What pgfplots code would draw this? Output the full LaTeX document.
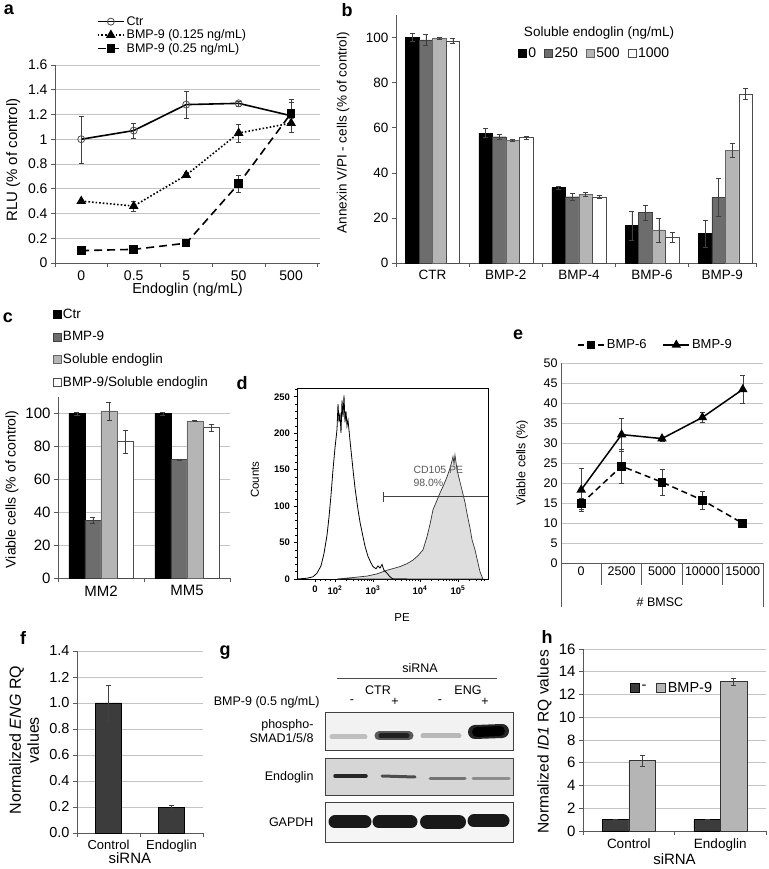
\documentclass[border=0pt]{standalone}
\usepackage{fontspec}
\setmainfont{Liberation Sans}
\usepackage{pgfplots}
\pgfplotsset{compat=1.18}
\definecolor{dg}{HTML}{6D6D6D}
\definecolor{lg}{HTML}{B5B5B5}
\definecolor{fdark}{HTML}{3C3C3C}
\definecolor{gridc}{HTML}{C4C4C4}
\newcommand{\fs}[2]{\fontsize{#1}{#2}\selectfont}
\pgfplotsset{
  exc/.style={anchor=south west, scale only axis, axis x line*=bottom, axis y line*=left,
    axis line style={-,draw=black!65, line width=0.7pt}, tick align=outside, major tick length=4pt,
    tick style={draw=black!65, line width=0.6pt}, grid style={draw=gridc, line width=0.6pt},
    /pgf/number format/assume math mode=true, clip=false, legend cell align=left},
  sq/.style={legend image code/.code={\draw[##1] (0pt,-4pt) rectangle (8pt,4pt);}},
  ln/.style={legend image code/.code={\draw[mark repeat=2,mark phase=2,##1] plot coordinates {(0pt,0pt) (13pt,0pt) (26pt,0pt)};}},
  eb/.style={error bars/y dir=both, error bars/y explicit,
    error bars/error bar style={black!75, line width=0.6pt, solid},
    error bars/error mark options={rotate=90, mark size=2.5pt, black!75, solid}},
}
\begin{document}
\begin{tikzpicture}
\path[use as bounding box] (0pt,0pt) rectangle (768pt,869pt);

% ---------------- a ----------------
\begin{axis}[exc, at={(55pt,606pt)}, width=265pt, height=198pt,
 xmin=-0.5, xmax=4.55, ymin=0, ymax=1.6,
 xtick={-0.5,0.5,1.5,2.5,3.5,4.5}, xticklabels={0,0.5,5,50,500}, x tick label as interval,
 ytick={0,0.2,0.4,0.6,0.8,1,1.2,1.4,1.6}, yticklabels={0,0.2,0.4,0.6,0.8,1,1.2,1.4,1.6},
 ymajorgrids, tick label style={font=\fs{14}{16}},
 xlabel={Endoglin (ng/mL)}, xlabel style={font=\fs{14.5}{16}, at={(axis description cs:0.5,-0.136)}, anchor=center},
 ylabel={RLU (\% of control)}, ylabel style={font=\fs{15}{17}, at={(axis description cs:-0.158,0.52)}, anchor=center},
 ln, legend style={at={(axis description cs:0.158,1.045)}, anchor=south west, draw=none, fill=none, inner sep=0pt, font=\fs{12.5}{14}, row sep=-1pt},
]
\addplot[black, line width=1.6pt, mark=o, mark size=3.5pt, mark options={solid, draw=black!70, fill=white, line width=0.8pt}, eb]
 coordinates {(0,1.00)+-(0,0.19) (1,1.07)+-(0,0.06) (2,1.28)+-(0,0.11) (3,1.29)+-(0,0.02) (4,1.19)+-(0,0.13)};
\addlegendentry{Ctr}
\addplot[black, line width=1.6pt, dash pattern=on 1.6pt off 2pt, mark=triangle*, mark size=4pt, mark options={solid}, eb]
 coordinates {(0,0.50)+-(0,0.01) (1,0.46)+-(0,0.04) (2,0.71)+-(0,0.02) (3,1.05)+-(0,0.07) (4,1.13)+-(0,0.07)};
\addlegendentry{BMP-9 (0.125 ng/mL)}
\addplot[black, line width=1.6pt, dash pattern=on 8pt off 5pt, mark=square*, mark size=3.5pt, mark options={solid}, eb]
 coordinates {(0,0.10)+-(0,0.01) (1,0.11)+-(0,0.01) (2,0.16)+-(0,0.01) (3,0.64)+-(0,0.07) (4,1.21)+-(0,0.09)};
\addlegendentry{BMP-9 (0.25 ng/mL)}
\end{axis}

% ---------------- b ----------------
\begin{axis}[exc, at={(396pt,606pt)}, width=360pt, height=248pt,
 ybar=0pt, bar width=13.5pt,
 xmin=-0.5, xmax=4.42, ymin=0, ymax=110,
 xtick={-0.5,0.5,1.5,2.5,3.5,4.42}, xticklabels={CTR,BMP-2,BMP-4,BMP-6,BMP-9}, x tick label as interval,
 ytick={0,20,40,60,80,100}, yticklabels={0,20,40,60,80,100},
 tick label style={font=\fs{13.5}{15}},
 ylabel={Annexin V/PI - cells (\% of control)}, ylabel style={font=\fs{13.5}{16}, at={(axis description cs:-0.147,0.526)}, anchor=center},
 sq, legend columns=4, legend style={at={(axis description cs:0.33,0.847)}, anchor=west, draw=none, fill=none, font=\fs{14}{15}, /tikz/every even column/.append style={column sep=6pt}},
]
\addplot[fill=black, draw=black, eb] coordinates {(0,100)+-(0,1.8) (1,57.6)+-(0,2) (2,33.4)+-(0,0.5) (3,16.6)+-(0,6.3) (4,13.2)+-(0,6)};
\addlegendentry{0}
\addplot[fill=dg, draw=black!75, eb] coordinates {(0,99)+-(0,2.3) (1,56)+-(0,1.3) (2,29.4)+-(0,1.4) (3,22.5)+-(0,3.3) (4,29.1)+-(0,8.5)};
\addlegendentry{250}
\addplot[fill=lg, draw=black!60, eb] coordinates {(0,99.7)+-(0,0.3) (1,54.4)+-(0,0.5) (2,30.6)+-(0,0.8) (3,14.7)+-(0,5.3) (4,50)+-(0,3.2)};
\addlegendentry{500}
\addplot[fill=white, draw=black!70, eb] coordinates {(0,98.5)+-(0,1) (1,55.6)+-(0,0.7) (2,29.4)+-(0,0.5) (3,11.5)+-(0,2.1) (4,75)+-(0,2.5)};
\addlegendentry{1000}
\node[font=\fs{13.5}{15}] at (axis description cs:0.564,0.927) {Soluble endoglin (ng/mL)};
\end{axis}

% ---------------- c ----------------
\begin{axis}[exc, at={(58pt,291pt)}, width=172pt, height=181pt,
 ybar=0pt, bar width=16pt,
 xmin=-0.5, xmax=1.5, ymin=0, ymax=110,
 xtick={-0.5,0.5,1.5}, xticklabels={MM2,MM5}, x tick label as interval,
 ytick={0,20,40,60,80,100}, yticklabels={0,20,40,60,80,100}, ymajorgrids,
 tick label style={font=\fs{15}{17}},
 ylabel={Viable cells (\% of control)}, ylabel style={font=\fs{14}{16}, at={(axis description cs:-0.267,0.49)}, anchor=center},
 sq, legend style={at={(axis description cs:-0.05,1.51)}, anchor=north west, draw=none, fill=none, font=\fs{13.5}{15}, row sep=7.5pt},
]
\addplot[fill=black, draw=black, eb] coordinates {(0,100)+-(0,1) (1,100)+-(0,1)};
\addlegendentry{Ctr}
\addplot[fill=dg, draw=black!75, eb] coordinates {(0,35)+-(0,2) (1,72)+-(0,0.3)};
\addlegendentry{BMP-9}
\addplot[fill=lg, draw=black!60, eb] coordinates {(0,101.5)+-(0,5.5) (1,95.5)+-(0,0.3)};
\addlegendentry{Soluble endoglin}
\addplot[fill=white, draw=black!70, eb] coordinates {(0,83)+-(0,7) (1,91.5)+-(0,2.2)};
\addlegendentry{BMP-9/Soluble endoglin}
\end{axis}

% ---------------- d ----------------
\begin{axis}[anchor=south west, scale only axis, at={(297pt,290pt)}, width=191pt, height=191pt,
 xmin=0, xmax=191, ymin=0, ymax=262, clip=false,
 axis line style={black, line width=0.9pt}, tick align=outside, xtick pos=left, ytick pos=left,
 major tick length=3.5pt, minor tick length=2pt, tick style={black, line width=0.6pt},
 xtick={18,38,76,123,161}, xticklabels={0,10\textsuperscript{2},10\textsuperscript{3},10\textsuperscript{4},10\textsuperscript{5}},
 minor xtick={23,28,33,49.4,56.1,60.9,64.6,67.6,70.1,72.3,74.3,90.1,98.4,104.3,108.9,112.6,115.7,118.4,120.8,134.4,141.1,145.9,149.6,152.6,155.1,157.3,159.3,172.4,179.1,183.9,187.6},
 ytick={0,50,100,150,200,250}, yticklabels={0,50,100,150,200,250},
 minor ytick={10,20,30,40,60,70,80,90,110,120,130,140,160,170,180,190,210,220,230,240,260},
 tick label style={font=\fs{9.5}{11}\bfseries},
 xlabel={PE}, xlabel style={font=\fs{11.5}{13}, at={(axis description cs:0.55,-0.204)}, anchor=center},
 ylabel={Counts}, ylabel style={font=\fs{11.5}{13}, at={(axis description cs:-0.22,0.52)}, anchor=center},
]
\addplot[fill=black!13, draw=black!80, line width=0.7pt] coordinates {
 (40,0) (56,2) (70,4) (80,7) (90,12) (103,17) (110,21) (116,26) (121,32) (126,40) (130,58) (133,75) (136,95)
 (140,108) (143,118) (147,130) (150,140) (153,152) (155,162) (156,168) (157,158) (158,170) (159,160) (160,150)
 (163,133) (165,122) (168,105) (170,90) (173,70) (175,54) (178,40) (181,22) (183,10) (185,3) (186,0)} \closedcycle;
\addplot[black, line width=0.8pt] coordinates {
 (0,0) (10,1) (16,3) (20,8) (24,18) (27,35) (30,60) (32,85) (34,115) (36,150) (38,180) (40,205) (41,240) (42,215)
 (43,228) (44,200) (45,245) (46,222) (47,252) (48,215) (49,230) (50,210) (51,218) (53,190) (56,150) (58,125)
 (61,95) (63,78) (66,58) (68,45) (71,31) (74,22) (76,17) (79,14) (81,18) (83,15) (85,20) (87,12) (90,8) (93,3) (96,0) (110,0)};
\addplot[black!75, line width=0.6pt, mark=|, mark size=5pt, mark indices={1}] coordinates {(86,113) (191,113)};
\node[anchor=west, font=\fs{10.5}{11}, text=black!65] at (axis cs:113,150) {CD105 PE};
\node[anchor=west, font=\fs{10.5}{11}, text=black!65] at (axis cs:113,132) {98.0\%};
\end{axis}

% ---------------- e ----------------
\begin{axis}[exc, at={(561pt,306pt)}, width=202pt, height=200pt, major tick length=0pt,
 xmin=-0.5, xmax=4.5, ymin=0, ymax=50,
 xtick={-0.5,0.5,1.5,2.5,3.5,4.5}, xticklabels={0,2500,5000,10000,15000}, x tick label as interval,
 ytick={0,5,...,50}, yticklabels={0,5,10,15,20,25,30,35,40,45,50}, ymajorgrids,
 tick label style={font=\fs{12.5}{14}},
 ylabel={Viable cells (\%)}, ylabel style={font=\fs{12.5}{14}, at={(axis description cs:-0.193,0.5)}, anchor=center},
 ln, legend columns=2, legend style={at={(axis description cs:0.065,1.09)}, anchor=west, draw=none, fill=none, font=\fs{13}{14}, /tikz/every even column/.append style={column sep=14pt}},
]
\addplot[black, line width=1.5pt, dash pattern=on 6pt off 4pt, mark=square*, mark size=3.6pt, mark options={solid}, eb]
 coordinates {(0,14.8)+-(0,1.4) (1,24.2)+-(0,4.3) (2,20.2)+-(0,3.3) (3,15.7)+-(0,2.3) (4,9.9)+-(0,0.4)};
\addlegendentry{BMP-6}
\addplot[black, line width=1.5pt, mark=triangle*, mark size=4pt, eb]
 coordinates {(0,18.3)+-(0,5.4) (1,32.1)+-(0,4.1) (2,31.1)+-(0,0.6) (3,36.4)+-(0,1.3) (4,43.4)+-(0,3.5)};
\addlegendentry{BMP-9}
\draw[black!65, line width=0.7pt] (axis cs:0.5,0) -- ++(0pt,-22pt);
\draw[black!65, line width=0.7pt] (axis cs:1.5,0) -- ++(0pt,-22pt);
\draw[black!65, line width=0.7pt] (axis cs:2.5,0) -- ++(0pt,-22pt);
\draw[black!65, line width=0.7pt] (axis cs:3.5,0) -- ++(0pt,-22pt);
\draw[black!65, line width=0.7pt] (axis cs:-0.5,0) -- ++(0pt,-44pt);
\draw[black!65, line width=0.7pt] (axis cs:4.5,0) -- ++(0pt,-44pt);
\node[font=\fs{12.5}{14}] at (axis description cs:0.49,-0.195) {\# BMSC};
\end{axis}

% ---------------- f ----------------
\begin{axis}[exc, at={(77pt,36pt)}, width=126pt, height=182pt,
 ybar, bar width=26pt,
 xmin=-0.5, xmax=1.5, ymin=0, ymax=1.4,
 xtick={-0.5,0.5,1.5}, xticklabels={Control,Endoglin}, x tick label as interval,
 ytick={0,0.2,0.4,0.6,0.8,1.0,1.2,1.4}, yticklabels={0.0,0.2,0.4,0.6,0.8,1.0,1.2,1.4}, ymajorgrids,
 yticklabel style={font=\fs{14.5}{16}}, xticklabel style={font=\fs{13}{14}},
 xlabel={siRNA}, xlabel style={font=\fs{15}{16}, at={(axis description cs:0.42,-0.138)}, anchor=center},
 ylabel={Normalized \textit{ENG} RQ\\values}, ylabel style={font=\fs{16}{18}, align=center, at={(axis description cs:-0.42,0.51)}, anchor=center},
]
\addplot[fill=fdark, draw=black, eb] coordinates {(0,1.0)+-(0,0.14) (1,0.2)+-(0,0.015)};
\end{axis}

% ---------------- g ----------------
\begin{axis}[anchor=south west, scale only axis, at={(325pt,27pt)}, width=188pt, height=130pt,
 xmin=0, xmax=188, ymin=0, ymax=130, hide axis, clip=false]
\addplot[draw=black!75, line width=0.8pt, fill=black!5] coordinates {(0,92) (188,92) (188,130) (0,130) (0,92)};
\addplot[draw=black!75, line width=0.8pt, fill=black!16] coordinates {(0,47) (188,47) (188,84) (0,84) (0,47)};
\addplot[draw=black!75, line width=0.8pt, fill=black!4] coordinates {(0,0) (188,0) (188,40) (0,40) (0,0)};
% phospho-SMAD1/5/8
\addplot[black!25, line width=5pt, line cap=round] coordinates {(7,105) (40,105)};
\addplot[black!65, line width=9pt, line cap=round] coordinates {(54,106) (84,106)};
\addplot[black!88, line width=5pt, line cap=round] coordinates {(56,106) (82,106)};
\addplot[black!28, line width=5pt, line cap=round] coordinates {(98,106) (134,106)};
\addplot[black!85, line width=14pt, line cap=round] coordinates {(150,110) (177,111)};
\addplot[black, line width=10pt, line cap=round] coordinates {(152,110) (175,111)};
% Endoglin
\addplot[black!85, line width=3.5pt, line cap=round] coordinates {(10,66) (41,66)};
\addplot[black!70, line width=3pt, line cap=round] coordinates {(57,66) (90,65)};
\addplot[black!55, line width=3pt, line cap=round] coordinates {(105,63) (140,63)};
\addplot[black!45, line width=3pt, line cap=round] coordinates {(148,63) (184,63)};
% GAPDH
\addplot[black!90, line width=13pt, line cap=round] coordinates {(10,20) (40,20)};
\addplot[black!90, line width=13pt, line cap=round] coordinates {(54,20) (86,20)};
\addplot[black!90, line width=14pt, line cap=round] coordinates {(102,20) (134,20)};
\addplot[black!90, line width=13pt, line cap=round] coordinates {(149,21) (178,21)};
\end{axis}
\begin{scope}[every node/.style={font=\fs{12.5}{14}}]
\node at (420pt,201pt) {siRNA};
\draw[black!70, line width=0.6pt] (337pt,191pt) -- (497pt,191pt);
\node at (378pt,179pt) {CTR};
\node at (468pt,179pt) {ENG};
\node[anchor=east] at (323pt,167pt) {BMP-9 (0.5 ng/mL)};
\node at (352pt,167pt) {-};
\node at (395pt,167pt) {+};
\node at (440pt,167pt) {-};
\node at (485pt,167pt) {+};
\node[anchor=east] at (317pt,144pt) {phospho-};
\node[anchor=east] at (317pt,131pt) {SMAD1/5/8};
\node[anchor=east] at (317pt,92pt) {Endoglin};
\node[anchor=east] at (317pt,47pt) {GAPDH};
\end{scope}

% ---------------- h ----------------
\begin{axis}[exc, at={(583pt,38pt)}, width=183pt, height=182pt,
 ybar=0pt, bar width=26.5pt,
 xmin=-0.5, xmax=1.5, ymin=0, ymax=16,
 xtick={-0.5,0.5,1.5}, xticklabels={Control,Endoglin}, x tick label as interval,
 ytick={0,2,...,16}, yticklabels={0,2,4,6,8,10,12,14,16}, ymajorgrids,
 yticklabel style={font=\fs{15}{16}}, xticklabel style={font=\fs{13.5}{15}},
 xlabel={siRNA}, xlabel style={font=\fs{15}{16}, at={(axis description cs:0.5,-0.152)}, anchor=center},
 ylabel={Normalized \textit{ID1} RQ values}, ylabel style={font=\fs{15.5}{18}, at={(axis description cs:-0.21,0.49)}, anchor=center},
 legend columns=2, legend image code/.code={\draw[#1] (0pt,-4.5pt) rectangle (9pt,4.5pt);},
 legend style={at={(axis description cs:0.24,0.786)}, anchor=west, draw=none, fill=none, font=\fs{14.5}{16}, /tikz/every even column/.append style={column sep=8pt}},
]
\addplot[fill=fdark, draw=black, eb] coordinates {(0,1.0)+-(0,0.08) (1,1.0)+-(0,0.05)};
\addlegendentry{-}
\addplot[fill=lg, draw=black!80, eb] coordinates {(0,6.2)+-(0,0.5) (1,13.15)+-(0,0.3)};
\addlegendentry{BMP-9}
\end{axis}

% panel letters
\begin{scope}[every node/.style={font=\fs{18}{20}\bfseries}]
\node at (9pt,859pt) {a};
\node at (347pt,859pt) {b};
\node at (8pt,551pt) {c};
\node at (242pt,486pt) {d};
\node at (518pt,534pt) {e};
\node at (23pt,231pt) {f};
\node at (225pt,216pt) {g};
\node at (547pt,232pt) {h};
\end{scope}
\end{tikzpicture}
\end{document}
